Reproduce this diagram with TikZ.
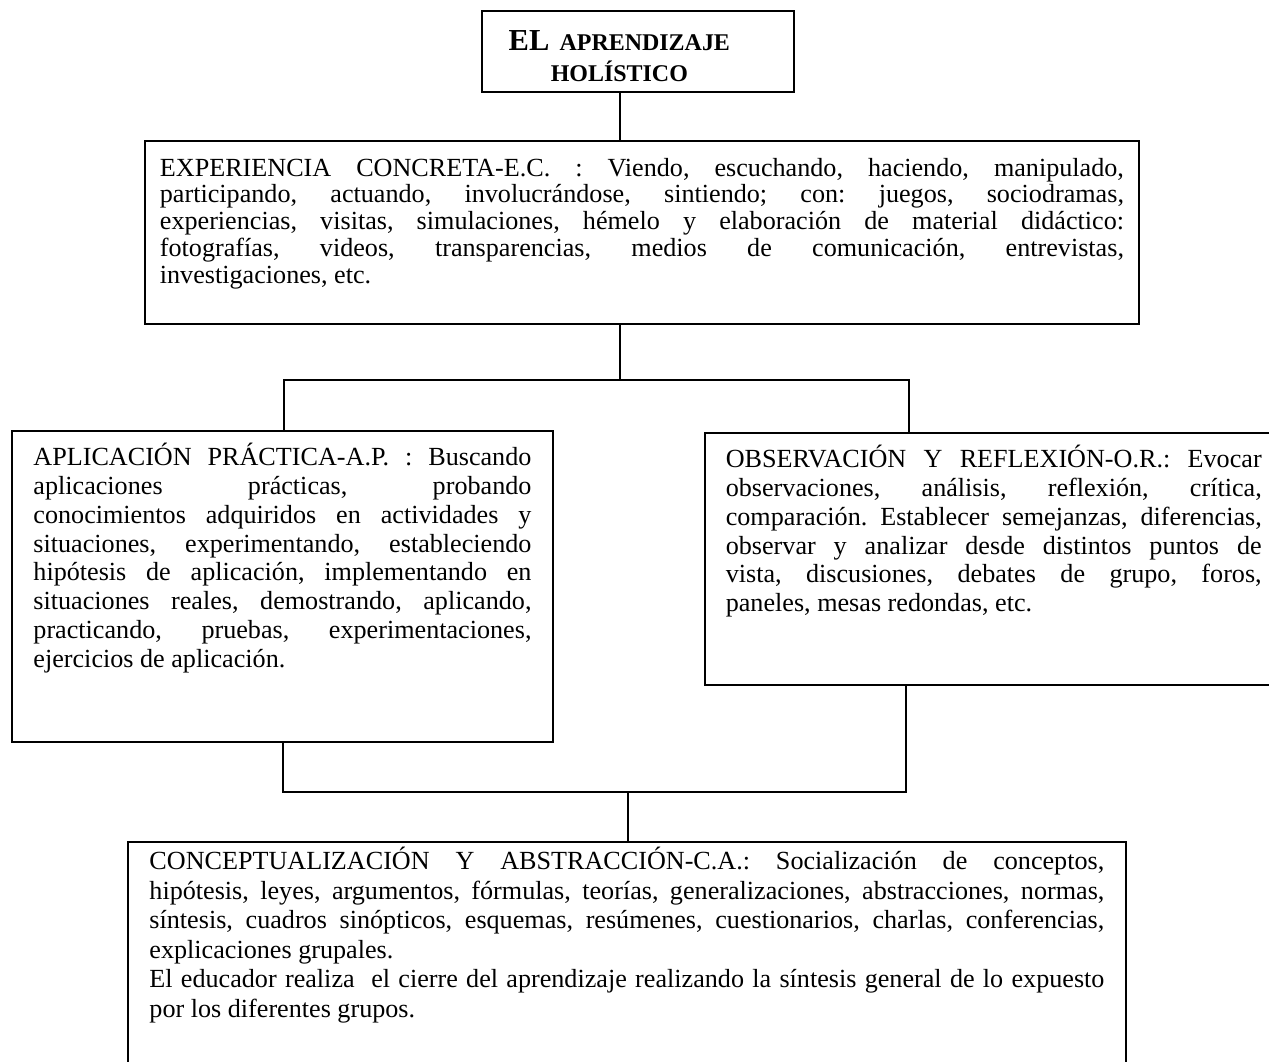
\documentclass[tikz,border=0pt]{standalone}
\usepackage{fontspec}
\setmainfont{Liberation Serif}
\usetikzlibrary{calc}
\tolerance=10000
\hbadness=10000
\frenchspacing

\tikzset{
  panel/.style={draw, line width=0.8pt, anchor=north west, inner ysep=0pt, align=justify, font=\fontsize{12}{12.3}\selectfont},
  link/.style={line width=0.6pt}
}

\begin{document}
\begin{tikzpicture}[x=0.459pt, y=-0.459pt]
    \useasboundingbox (0,0) rectangle (1269,1061);
    \clip (0,0) rectangle (1269,1061);
    \node (titulo) [draw, line width=0.8pt, anchor=north west, inner xsep=1.6pt, inner ysep=0pt, text width=140pt, align=center, text height=18.4pt, text depth=18.8pt, font=\bfseries\fontsize{14}{13.8}\selectfont] at (481,10) {EL {\fontsize{11}{13.8}\selectfont APRENDIZAJE}\rule{17pt}{0pt}\\{\fontsize{11}{13.8}\selectfont HOLÍSTICO}\rule{17pt}{0pt}};
    \node (exper) [panel, inner xsep=6.9pt, text width=442.5pt, text height=16.2pt, text depth=68pt] at (144,140) {EXPERIENCIA CONCRETA-E.C. : Viendo, escuchando, haciendo, manipulado,\linebreak
        participando, actuando, involucrándose, sintiendo; con: juegos, sociodramas,\linebreak
        experiencias, visitas, simulaciones, hémelo y elaboración de material didáctico:\linebreak
        fotografías, videos, transparencias, medios de comunicación, entrevistas,\linebreak
        investigaciones, etc.};
    \node (aplic) [panel, inner xsep=9.9pt, text width=228.6pt, text height=16pt, text depth=126.7pt, font=\fontsize{12}{13.2}\selectfont] at (11,430) {APLICACIÓN PRÁCTICA-A.P. : Buscando\linebreak
        aplicaciones prácticas, probando\linebreak
        conocimientos adquiridos en actividades y\linebreak
        situaciones, experimentando, estableciendo\linebreak
        hipótesis de aplicación, implementando en\linebreak
        situaciones reales, demostrando, aplicando,\linebreak
        practicando, pruebas, experimentaciones,\linebreak
        ejercicios de aplicación.};
    \node (observ) [panel, inner xsep=9.6pt, text width=246pt, text height=16pt, text depth=99.6pt, font=\fontsize{12}{13.2}\selectfont] at (704,432) {OBSERVACIÓN Y REFLEXIÓN-O.R.: Evocar\linebreak
        observaciones, análisis, reflexión, crítica,\linebreak
        comparación. Establecer semejanzas, diferencias,\linebreak
        observar y analizar desde distintos puntos de\linebreak
        vista, discusiones, debates de grupo, foros,\linebreak
        paneles, mesas redondas, etc.};
    \node (concep) [panel, inner xsep=9.9pt, text width=438.3pt, text height=12.9pt, text depth=105pt, font=\fontsize{12}{13.5}\selectfont] at (127,841) {CONCEPTUALIZACIÓN Y ABSTRACCIÓN-C.A.: Socialización de conceptos,\linebreak
        hipótesis, leyes, argumentos, fórmulas, teorías, generalizaciones, abstracciones, normas,\linebreak
        síntesis, cuadros sinópticos, esquemas, resúmenes, cuestionarios, charlas, conferencias,\linebreak
        explicaciones grupales.\par
        El educador realiza\ \ el cierre del aprendizaje realizando la síntesis general de lo expuesto\linebreak
        por los diferentes grupos.};
    % uniones
    \coordinate (eje) at (620,0);
    \coordinate (ramaA) at (284,380);
    \coordinate (ramaB) at (909,380);
    \coordinate (baseA) at (283,792);
    \coordinate (baseB) at (906,792);
    \coordinate (baseC) at (628,792);
    \draw[link] (titulo.south -| eje) -- (exper.north -| eje);
    \draw[link] (exper.south -| eje) -- (ramaA -| eje);
    \draw[link] (aplic.north -| ramaA) -- (ramaA) -- (ramaB) -- (observ.north -| ramaB);
    \draw[link] (aplic.south -| baseA) -- (baseA) -- (baseB) -- (observ.south -| baseB);
    \draw[link] (baseC) -- (concep.north -| baseC);
\end{tikzpicture}
\end{document}
